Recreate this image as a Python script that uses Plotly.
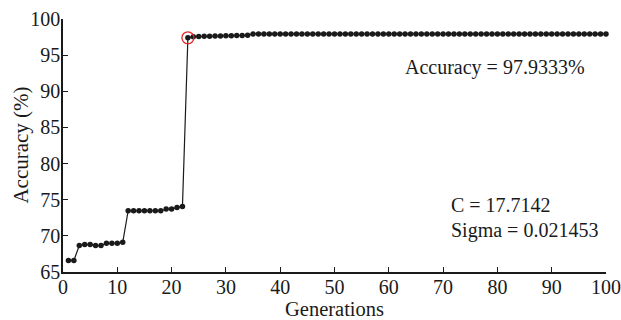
import plotly.graph_objects as go

generations = list(range(1, 101))
accuracy = (
    [66.6, 66.6, 68.65, 68.8, 68.8, 68.65, 68.65, 68.98, 68.98, 68.98, 69.1,
     73.47, 73.47, 73.47, 73.47, 73.47, 73.47, 73.47, 73.7, 73.7, 73.93, 74.07,
     97.40, 97.55, 97.58, 97.6, 97.62, 97.64, 97.66, 97.68, 97.7, 97.72, 97.73, 97.75]
    + [97.9333] * 66
)
best_gen = 23
best_acc = 97.40

x_ticks = [0, 10, 20, 30, 40, 50, 60, 70, 80, 90, 100]
y_ticks = [65, 70, 75, 80, 85, 90, 95, 100]

FONT = "Liberation Serif"
INK = "#1a1a1a"

fig = go.Figure()
fig.add_trace(go.Scatter(
    x=generations, y=accuracy, mode="lines+markers",
    line=dict(color=INK, width=1.2),
    marker=dict(color=INK, size=5.5, symbol="circle"),
    showlegend=False, hoverinfo="skip", cliponaxis=False,
))
fig.add_trace(go.Scatter(
    x=[best_gen], y=[best_acc], mode="markers",
    marker=dict(color="#e8262b", size=12, symbol="circle-open",
                line=dict(color="#e8262b", width=1.3)),
    showlegend=False, hoverinfo="skip", cliponaxis=False,
))

axis_common = dict(
    showgrid=False, zeroline=False, showline=True, linecolor=INK,
    linewidth=1.5, ticks="inside", ticklen=5, tickwidth=1, tickcolor=INK,
    mirror=False, automargin=False,
    tickfont=dict(family=FONT, size=20, color=INK),
)

fig.update_layout(
    width=621, height=320,
    margin=dict(l=63, r=15, t=19, b=48),
    paper_bgcolor="white", plot_bgcolor="white",
    font=dict(family=FONT, color=INK),
    xaxis=dict(range=[0, 100], tickvals=x_ticks, ticklabelstandoff=-4, **axis_common),
    yaxis=dict(range=[65, 100], tickvals=y_ticks, ticklabelstandoff=-3, **axis_common),
    annotations=[
        dict(text="Generations", xref="paper", yref="paper", x=0.5, y=-0.148,
             xanchor="center", yanchor="middle", showarrow=False,
             font=dict(family=FONT, size=20.5, color=INK)),
        dict(text="Accuracy (%)", xref="paper", yref="paper", x=-0.079, y=0.5,
             xanchor="center", yanchor="middle", showarrow=False, textangle=-90,
             font=dict(family=FONT, size=21, color=INK)),
        dict(text="Accuracy = 97.9333%", xref="paper", yref="paper", x=0.627, y=0.81,
             xanchor="left", yanchor="middle", showarrow=False,
             font=dict(family=FONT, size=20, color=INK)),
        dict(text="C = 17.7142", xref="paper", yref="paper", x=0.71, y=0.266,
             xanchor="left", yanchor="middle", showarrow=False,
             font=dict(family=FONT, size=20, color=INK)),
        dict(text="Sigma = 0.021453", xref="paper", yref="paper", x=0.71, y=0.164,
             xanchor="left", yanchor="middle", showarrow=False,
             font=dict(family=FONT, size=20, color=INK)),
    ],
)

fig.write_html("out.html", config={"displayModeBar": False},
               post_script="document.body.style.margin='0';document.body.style.overflow='hidden';")
